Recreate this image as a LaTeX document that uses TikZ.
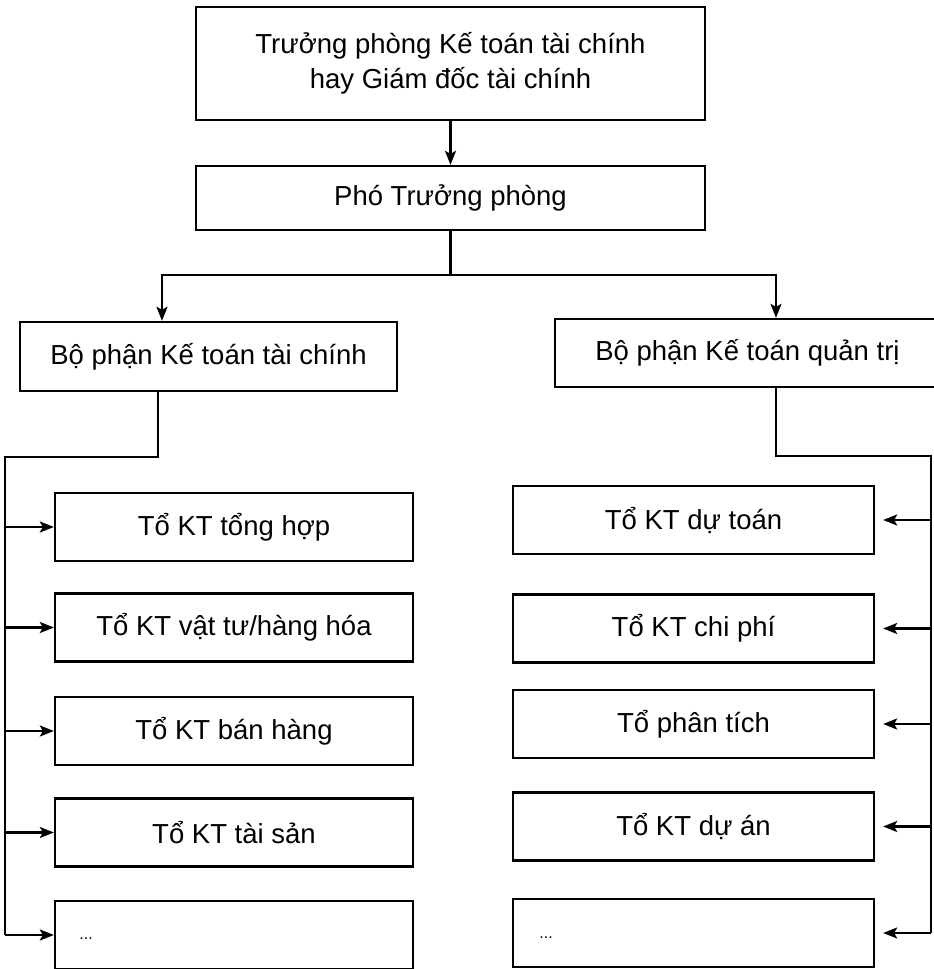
\documentclass[tikz,border=0pt]{standalone}
\usepackage{fontspec}
\setmainfont{Liberation Sans}
\usetikzlibrary{arrows.meta}
\begin{document}
\begin{tikzpicture}[x=1pt,y=-1pt,
  every node/.style={font=\fontsize{27.5}{35}\selectfont},
  box/.style={draw, line width=2.3pt, rectangle, inner sep=0pt, align=center},
  lsub/.style={box, minimum width=358pt, minimum height=68pt},
  rsub/.style={box, minimum width=361pt, minimum height=68pt},
  ln/.style={line width=2.3pt, line join=miter},
  arr/.style={ln, -{Stealth[length=14pt,width=11pt,inset=3pt]}},
  darr/.style={ln, {Stealth[length=14pt,width=11pt,inset=3pt]}-{Stealth[length=14pt,width=11pt,inset=3pt]}},
  dots/.style={font=\fontsize{16}{18}\selectfont}
]
\useasboundingbox (0,0) rectangle (934,969);
\fill[white] (0,0) rectangle (934,969);

% top
\node[box, minimum width=509pt, minimum height=113pt] (top) at (450.5,63.5)
  {Trưởng phòng Kế toán tài chính\\hay Giám đốc tài chính};
\node[box, minimum width=509pt, minimum height=64pt] (pho) at (450.5,198) {Phó Trưởng phòng};

% departments
\node[box, minimum width=377pt, minimum height=69pt] (lbp) at (208.5,356.5) {Bộ phận Kế toán tài chính};
\node[box, minimum width=385pt, minimum height=68pt] (rbp) at (747.5,353) {Bộ phận Kế toán quản trị};

% left teams
\node[lsub] (l1) at (234,527) {Tổ KT tổng hợp};
\node[lsub] (l2) at (234,627.5) {Tổ KT vật tư/hàng hóa};
\node[lsub] (l3) at (234,731) {Tổ KT bán hàng};
\node[lsub] (l4) at (234,832.5) {Tổ KT tài sản};
\node[lsub] (l5) at (234,935) {};
\node[dots, anchor=west] (l5t) at ([xshift=22pt,yshift=-4pt]l5.west) {...};

% right teams
\node[rsub] (r1) at (693.5,520) {Tổ KT dự toán};
\node[rsub] (r2) at (693.5,628.5) {Tổ KT chi phí};
\node[rsub] (r3) at (693.5,724) {Tổ phân tích};
\node[rsub] (r4) at (693.5,826.5) {Tổ KT dự án};
\node[rsub] (r5) at (693.5,933) {};
\node[dots, anchor=west] (r5t) at ([xshift=24pt,yshift=-5pt]r5.west) {...};

% coordinates for connector bends
\coordinate (bl) at (162,275);
\coordinate (br) at (776,275);
\coordinate (lj) at (158,457);
\coordinate (lt) at (5,457);
\coordinate (rj) at (776,456);
\coordinate (rt) at (931,456);

% connectors
\draw[arr] (top) -- (pho);
\draw[ln] (pho.south) -- (pho.south |- bl);
\draw[darr] (bl |- lbp.north) -- (bl) -- (br) -- (br |- rbp.north);

\draw[ln] (lbp.south -| lj) -- (lj) -- (lt) -- (lt |- l5);
\foreach \n in {l1,l2,l3,l4,l5} \draw[arr] (lt |- \n) -- (\n.west);

\draw[ln] (rbp.south -| rj) -- (rj) -- (rt) -- (rt |- r5);
\foreach \n in {r1,r2,r3,r4,r5} \draw[arr, shorten >=8pt] (rt |- \n) -- (\n.east);
\end{tikzpicture}
\end{document}
